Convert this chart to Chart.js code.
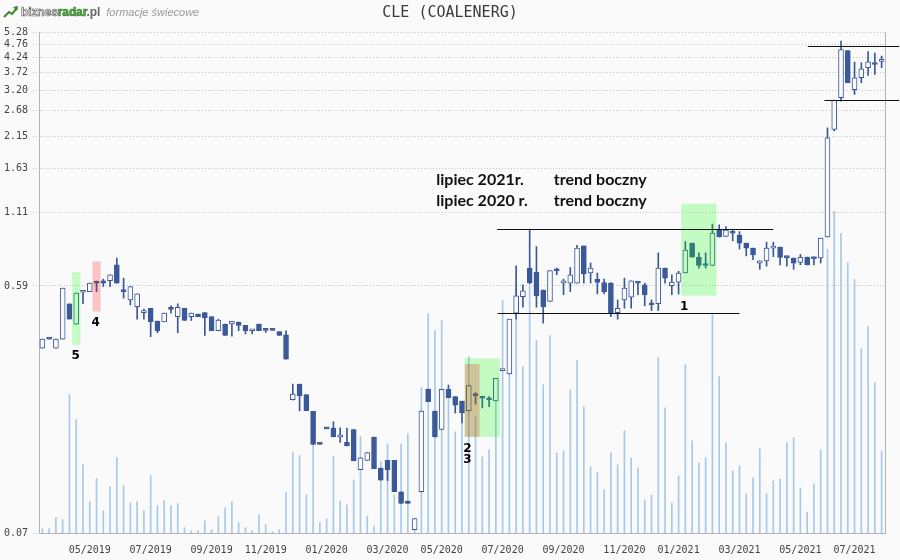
<!DOCTYPE html>
<html>
<head>
<meta charset="utf-8">
<title>CLE (COALENERG)</title>
<script src="https://cdn.jsdelivr.net/npm/chart.js@4.4.0/dist/chart.umd.min.js"></script>
<style>
    html, body { margin: 0; padding: 0; background: #fafafa; }
    #wrap { position: relative; width: 900px; height: 560px; }
    #logo { position: absolute; left: 3px; top: 4px; height: 14px; line-height: 14px; white-space: nowrap; }
    #logo svg { vertical-align: top; margin-top: 1px; }
    #logo .brand { font: bold 12px "Liberation Sans", Arial, sans-serif; letter-spacing: -0.1px; margin-left: 2px; }
    #logo .b1 { color: #fff; -webkit-text-stroke: 0.7px #5a5a5a; }
    #logo .b2 { color: #4cae3c; -webkit-text-stroke: 0.5px #2c6a22; }
    #logo .b3 { color: #666; }
    #logo .sub { font: italic 11px "Liberation Sans", Arial, sans-serif; color: #999; margin-left: 6px; }
</style>
</head>
<body>
<div id="wrap">
    <canvas id="cleChart" width="900" height="560"></canvas>
    <div id="logo">
        <svg width="16" height="13" viewBox="0 0 16 13"><polyline points="1,12 6,7 9,9 14,3" fill="none" stroke="#3a8a2a" stroke-width="2"/><polygon points="15,1 10,2 14,6" fill="#3a8a2a"/></svg><span class="brand"><span class="b1">biznes</span><span class="b2">radar</span><span class="b3">.pl</span></span><span class="sub">formacje świecowe</span>
    </div>
</div>
<script>
// weekly candles, Fridays 15.03.2019 - 30.07.2021
const weeks = [];
for (let d = new Date(Date.UTC(2019, 2, 15)); weeks.length < 125; d.setUTCDate(d.getUTCDate() + 7)) {
    weeks.push(d.toISOString().slice(0, 10));
}

const openPrices = [
    0.345, 0.374, 0.345, 0.373, 0.506, 0.424, 0.559, 0.562, 0.610, 0.617,
    0.617, 0.708, 0.567, 0.523, 0.494, 0.469, 0.487, 0.436, 0.433, 0.488,
    0.453, 0.487, 0.453, 0.463, 0.469, 0.453, 0.401, 0.425, 0.425, 0.432,
    0.420, 0.401, 0.425, 0.403, 0.403, 0.398, 0.387, 0.221, 0.253, 0.231,
    0.200, 0.1505, 0.173, 0.173, 0.1605, 0.153, 0.171, 0.121, 0.131, 0.160,
    0.1226, 0.131, 0.131, 0.0999, 0.0921, 0.0721, 0.0999, 0.2425, 0.2005, 0.1711,
    0.242, 0.227, 0.2185, 0.201, 0.232, 0.226, 0.222, 0.219, 0.284, 0.276,
    0.467, 0.538, 0.688, 0.664, 0.570, 0.516, 0.675, 0.606, 0.605, 0.605,
    0.834, 0.660, 0.626, 0.608, 0.605, 0.469, 0.523, 0.536, 0.610, 0.596,
    0.502, 0.506, 0.688, 0.591, 0.610, 0.660, 0.854, 0.757, 0.706, 0.704,
    0.964, 0.905, 0.932, 0.916, 0.854, 0.818, 0.719, 0.733, 0.818, 0.826,
    0.755, 0.751, 0.723, 0.757, 0.749, 0.751, 0.900, 2.276, 2.994, 4.500,
    3.210, 3.558, 3.879, 4.000, 4.100
];
const highPrices = [
    0.373, 0.374, 0.373, 0.579, 0.506, 0.555, 0.562, 0.605, 0.615, 0.626,
    0.650, 0.750, 0.631, 0.587, 0.551, 0.483, 0.487, 0.436, 0.467, 0.497,
    0.506, 0.487, 0.467, 0.463, 0.469, 0.453, 0.443, 0.425, 0.435, 0.432,
    0.420, 0.403, 0.425, 0.403, 0.403, 0.398, 0.401, 0.253, 0.253, 0.231,
    0.200, 0.1505, 0.173, 0.183, 0.1735, 0.173, 0.171, 0.134, 0.140, 0.160,
    0.1226, 0.131, 0.131, 0.0999, 0.0921, 0.0793, 0.2005, 0.2425, 0.2005, 0.242,
    0.251, 0.227, 0.2185, 0.250, 0.235, 0.226, 0.227, 0.266, 0.286, 0.443,
    0.702, 0.596, 0.964, 0.829, 0.570, 0.674, 0.688, 0.626, 0.692, 0.837,
    0.834, 0.719, 0.660, 0.626, 0.608, 0.523, 0.631, 0.617, 0.610, 0.605,
    0.523, 0.785, 0.688, 0.650, 0.670, 0.866, 0.854, 0.785, 0.785, 1.007,
    1.000, 0.985, 0.956, 0.943, 0.854, 0.818, 0.733, 0.861, 0.861, 0.826,
    0.755, 0.751, 0.775, 0.757, 0.749, 0.892, 2.309, 2.932, 4.883, 4.500,
    4.070, 4.050, 4.460, 4.400, 4.290
];
const lowPrices = [
    0.345, 0.373, 0.345, 0.373, 0.443, 0.424, 0.506, 0.562, 0.562, 0.587,
    0.587, 0.605, 0.531, 0.501, 0.443, 0.443, 0.381, 0.394, 0.433, 0.467,
    0.394, 0.438, 0.438, 0.453, 0.385, 0.401, 0.401, 0.385, 0.383, 0.401,
    0.390, 0.390, 0.401, 0.395, 0.402, 0.385, 0.314, 0.2205, 0.201, 0.201,
    0.1503, 0.1503, 0.172, 0.1605, 0.153, 0.1485, 0.1305, 0.121, 0.131, 0.122,
    0.1104, 0.110, 0.0999, 0.0903, 0.0903, 0.0721, 0.0999, 0.2173, 0.1605, 0.1711,
    0.225, 0.197, 0.181, 0.201, 0.2127, 0.206, 0.208, 0.219, 0.284, 0.276,
    0.443, 0.491, 0.600, 0.491, 0.428, 0.516, 0.650, 0.547, 0.562, 0.605,
    0.605, 0.605, 0.551, 0.551, 0.453, 0.443, 0.487, 0.487, 0.547, 0.497,
    0.477, 0.477, 0.605, 0.547, 0.550, 0.660, 0.757, 0.688, 0.688, 0.704,
    0.900, 0.905, 0.871, 0.811, 0.765, 0.7396, 0.681, 0.700, 0.760, 0.708,
    0.700, 0.681, 0.708, 0.708, 0.708, 0.719, 0.900, 2.250, 2.907, 3.407,
    3.080, 3.407, 3.630, 3.660, 3.879
];
const closePrices = [
    0.373, 0.373, 0.373, 0.579, 0.443, 0.555, 0.560, 0.605, 0.605, 0.605,
    0.650, 0.605, 0.562, 0.587, 0.551, 0.476, 0.434, 0.401, 0.467, 0.482,
    0.491, 0.438, 0.467, 0.453, 0.449, 0.401, 0.440, 0.385, 0.435, 0.420,
    0.401, 0.403, 0.401, 0.402, 0.402, 0.385, 0.314, 0.232, 0.229, 0.201,
    0.1503, 0.1503, 0.172, 0.1605, 0.1607, 0.1485, 0.1305, 0.134, 0.140, 0.122,
    0.1104, 0.121, 0.0999, 0.0903, 0.0903, 0.0793, 0.2005, 0.2173, 0.1605, 0.242,
    0.225, 0.211, 0.1973, 0.250, 0.229, 0.224, 0.221, 0.266, 0.286, 0.443,
    0.542, 0.566, 0.606, 0.542, 0.494, 0.674, 0.672, 0.610, 0.650, 0.818,
    0.654, 0.688, 0.608, 0.562, 0.467, 0.487, 0.579, 0.617, 0.605, 0.547,
    0.501, 0.688, 0.631, 0.610, 0.660, 0.805, 0.757, 0.704, 0.704, 0.932,
    0.900, 0.956, 0.930, 0.854, 0.818, 0.7725, 0.733, 0.818, 0.820, 0.755,
    0.754, 0.719, 0.755, 0.708, 0.747, 0.892, 2.118, 2.932, 4.535, 3.407,
    3.558, 3.846, 4.085, 3.990, 4.110
];
// volume, thousands of shares
const volumes = [
    43, 43, 157, 133, 1383, 1133, 683, 313, 543, 223,
    463, 753, 473, 303, 313, 223, 573, 273, 323, 273,
    293, 53, 23, 23, 123, 33, 163, 253, 313, 103,
    53, 23, 183, 83, 13, 33, 403, 803, 773, 383,
    1023, 103, 143, 763, 320, 280, 530, 960, 170, 70,
    710, 890, 380, 890, 990, 140, 1450, 2190, 2020, 2120,
    1400, 1010, 1100, 1760, 1170, 760, 830, 1500, 2320, 1960,
    2440, 1660, 2460, 1920, 1480, 1970, 800, 820, 1430, 1720,
    1260, 660, 610, 430, 800, 680, 1020, 750, 650, 330,
    380, 1750, 1250, 300, 570, 1680, 920, 700, 750, 2180,
    1560, 900, 620, 670, 390, 550, 840, 390, 520, 540,
    900, 950, 450, 210, 490, 830, 2830, 3210, 2990, 2700,
    2530, 1840, 2060, 1500, 820
];
const priceTicks = [0.07, 0.59, 1.11, 1.63, 2.15, 2.68, 3.20, 3.72, 4.24, 4.76, 5.28];

// hand drawn marks on the chart (x in candle index, y in price)
const boxes = [
    { from: 5, to: 5, low: 0.355, high: 0.664, color: 'rgba(0, 255, 0, 0.22)' },
    { from: 8, to: 8, low: 0.4735, high: 0.729, color: 'rgba(255, 0, 0, 0.22)' },
    { from: 63, to: 67, low: 0.1605, high: 0.316, color: 'rgba(0, 255, 0, 0.22)' },
    { from: 63, to: 64, low: 0.1605, high: 0.301, color: 'rgba(255, 0, 0, 0.22)' },
    { from: 95, to: 99, low: 0.543, high: 1.2, color: 'rgba(0, 255, 0, 0.22)' }
];
const levels = [
    { from: 67.2, to: 108.0, price: 0.964 },
    { from: 67.25, to: 103.0, price: 0.4666 },
    { from: 113.1, to: 126.6, price: 4.664 },
    { from: 115.55, to: 126.6, price: 2.942 }
];
const marks = [
    { text: '5', at: 4.92, price: 0.323 },
    { text: '4', at: 7.87, price: 0.428 },
    { text: '2', at: 62.82, price: 0.1452 },
    { text: '3', at: 62.82, price: 0.1313 },
    { text: '1', at: 94.83, price: 0.4935 }
];
const notes = [
    { text: 'lipiec 2021r.', at: 58.2, price: 1.406 },
    { text: 'trend boczny', at: 75.57, price: 1.406 },
    { text: 'lipiec 2020 r.', at: 58.2, price: 1.1726 },
    { text: 'trend boczny', at: 75.57, price: 1.1726 }
];

const candleBlue = '#3b5998';
const hollowFill = '#fafafa';
const axisGray = '#b4b4b4';

const drawingsPlugin = {
    id: 'drawings',
    afterDatasetsDraw(chart) {
        const ctx = chart.ctx;
        const xs = chart.scales.x;
        const ys = chart.scales.y;
        ctx.save();
        boxes.forEach(function (b) {
            const x0 = xs.getPixelForValue(b.from - 0.6);
            const x1 = xs.getPixelForValue(b.to + 0.6);
            const y0 = ys.getPixelForValue(b.high);
            const y1 = ys.getPixelForValue(b.low);
            ctx.fillStyle = b.color;
            ctx.fillRect(x0, y0, x1 - x0, y1 - y0);
        });
        ctx.strokeStyle = '#111';
        ctx.lineWidth = 1;
        levels.forEach(function (l) {
            const y = Math.round(ys.getPixelForValue(l.price)) + 0.5;
            ctx.beginPath();
            ctx.moveTo(xs.getPixelForValue(l.from), y);
            ctx.lineTo(xs.getPixelForValue(l.to), y);
            ctx.stroke();
        });
        ctx.fillStyle = '#000';
        ctx.font = 'bold 12px "DejaVu Sans", sans-serif';
        ctx.textAlign = 'center';
        ctx.textBaseline = 'middle';
        marks.forEach(function (m) {
            ctx.fillText(m.text, xs.getPixelForValue(m.at), ys.getPixelForValue(m.price));
        });
        ctx.fillStyle = '#111';
        ctx.font = 'bold 16px Lato, "Open Sans", sans-serif';
        ctx.textAlign = 'left';
        ctx.textBaseline = 'alphabetic';
        notes.forEach(function (n) {
            ctx.fillText(n.text, xs.getPixelForValue(n.at), ys.getPixelForValue(n.price));
        });
        ctx.restore();
    }
};

document.addEventListener('DOMContentLoaded', function () {
    const wicks = lowPrices.map((l, i) => [l, highPrices[i]]);
    const bodies = openPrices.map((o, i) => [o, closePrices[i]]);
    const bodyFill = openPrices.map((o, i) => closePrices[i] > o ? hollowFill : candleBlue);

    let ctx = document.getElementById('cleChart').getContext('2d');
    let cleChart = new Chart(ctx, {
        type: 'bar',
        data: {
            labels: weeks,
            datasets: [{
                label: 'Wolumen',
                data: volumes,
                yAxisID: 'vol',
                backgroundColor: '#a6c9ea',
                barThickness: 1,
                grouped: false,
                order: 3
            }, {
                label: 'Cień',
                data: wicks,
                yAxisID: 'y',
                backgroundColor: candleBlue,
                barThickness: 1,
                grouped: false,
                order: 2
            }, {
                label: 'Korpus',
                data: bodies,
                yAxisID: 'y',
                backgroundColor: bodyFill,
                borderColor: candleBlue,
                borderWidth: 1,
                borderSkipped: false,
                barThickness: 5,
                minBarLength: 2,
                grouped: false,
                order: 1
            }]
        },
        options: {
            responsive: false,
            animation: false,
            layout: { padding: 0 },
            plugins: {
                legend: { display: false },
                tooltip: { enabled: false },
                title: {
                    display: true,
                    text: 'CLE (COALENERG)',
                    color: '#3a3a3a',
                    font: { family: '"DejaVu Sans Mono", monospace', size: 15, weight: 'normal' },
                    padding: { top: 4, bottom: 10 }
                }
            },
            scales: {
                x: {
                    offset: true,
                    grid: { display: false, drawTicks: false },
                    border: { display: true, color: axisGray },
                    ticks: {
                        autoSkip: false,
                        maxRotation: 0,
                        padding: 11,
                        color: '#444',
                        font: { family: '"DejaVu Sans Mono", monospace', size: 10 },
                        callback: function (value, index) {
                            const parts = weeks[index].split('-');
                            return (+parts[1] % 2 === 1 && +parts[2] <= 7) ? parts[1] + '/' + parts[0] : '';
                        }
                    },
                    afterFit: function (scale) { scale.height = 27; }
                },
                y: {
                    type: 'logarithmic',
                    position: 'left',
                    min: 0.07,
                    max: 5.28,
                    bounds: 'data',
                    grid: { color: '#c4c4c4', tickLength: 6, tickColor: '#c4c4c4', tickBorderDash: [1, 2] },
                    border: { display: true, color: axisGray, dash: [1, 2] },
                    afterBuildTicks: function (scale) {
                        scale.ticks = priceTicks.map(v => ({ value: v }));
                    },
                    ticks: {
                        autoSkip: false,
                        padding: 5,
                        color: '#444',
                        font: { family: '"DejaVu Sans Mono", monospace', size: 10 },
                        callback: function (value) { return Number(value).toFixed(2); }
                    },
                    afterFit: function (scale) { scale.width = 39; }
                },
                vol: {
                    position: 'right',
                    min: 0,
                    max: 5000,
                    grid: { display: false, drawTicks: false },
                    border: { display: true, color: axisGray },
                    ticks: { display: false },
                    afterFit: function (scale) { scale.width = 15; }
                }
            }
        },
        plugins: [drawingsPlugin]
    });
});
</script>
</body>
</html>
